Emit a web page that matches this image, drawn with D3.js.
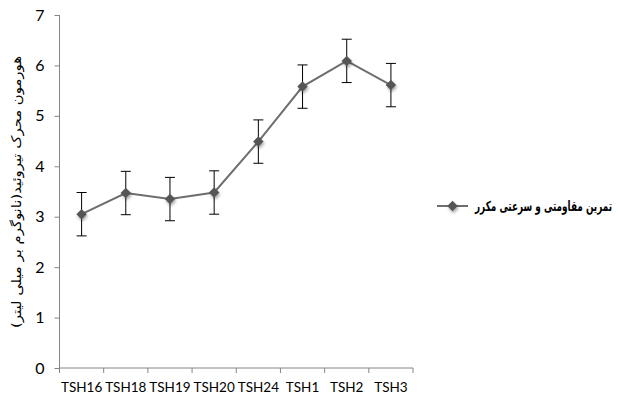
<!DOCTYPE html>
<html>
<head>
<meta charset="utf-8">
<script src="https://cdn.jsdelivr.net/npm/d3@7"></script>
<style>
  body { margin: 0; background: #fff; }
</style>
</head>
<body>
<script>
// داده‌ها
var categories = ["TSH16", "TSH18", "TSH19", "TSH20", "TSH24", "TSH1", "TSH2", "TSH3"];
var values = [3.05, 3.47, 3.35, 3.48, 4.49, 5.58, 6.09, 5.61];
var errors = [0.43, 0.43, 0.43, 0.43, 0.43, 0.43, 0.43, 0.43];
var yTicks = [0, 1, 2, 3, 4, 5, 6, 7];
var seriesName = "تمرین مقاومتی و سرعتی مکرر";
var yTitle = "هورمون محرک تیروئید(نانوگرم بر میلی لیتر)";

var width = 618, height = 405;
var margin = { left: 59.5, top: 15, right: 205, bottom: 37 };
var chartWidth = width - margin.left - margin.right;   // ~353
var chartHeight = height - margin.top - margin.bottom; // ~353

var svg = d3.select('body').append('svg')
    .attr('width', width)
    .attr('height', height);

// skuggfilter för markörerna
var defs = svg.append('defs');
var f = defs.append('filter').attr('id', 'shadow')
    .attr('x', '-50%').attr('y', '-50%').attr('width', '200%').attr('height', '200%');
f.append('feGaussianBlur').attr('in', 'SourceAlpha').attr('stdDeviation', 1.5).attr('result', 'b');
f.append('feOffset').attr('in', 'b').attr('dx', 1).attr('dy', 1.5).attr('result', 'o');
f.append('feComponentTransfer').attr('in', 'o').attr('result', 'o2')
    .append('feFuncA').attr('type', 'linear').attr('slope', 0.35);
var m = f.append('feMerge');
m.append('feMergeNode').attr('in', 'o2');
m.append('feMergeNode').attr('in', 'SourceGraphic');

var xScale = d3.scaleBand()
    .domain(categories)
    .range([0, chartWidth]);

var yScale = d3.scaleLinear()
    .domain([0, 7])
    .range([chartHeight, 0]);

var g = svg.append('g').attr('transform', 'translate(' + margin.left + ',' + margin.top + ')');

var axisColor = '#868686';
var tickFont = 'Lato, "Open Sans", sans-serif';

// y-axel
var yAxis = d3.axisLeft(yScale).tickValues(yTicks).tickSize(5).tickPadding(10).tickFormat(d3.format('d'));
var yg = g.append('g').call(yAxis);
yg.select('.domain').attr('stroke', axisColor).attr('d', 'M0,' + chartHeight + 'V0');
yg.selectAll('.tick line').attr('stroke', axisColor);
yg.selectAll('.tick text').attr('fill', '#000').style('font-family', tickFont).style('font-size', '16px');

// x-axel
var xAxis = d3.axisBottom(xScale).tickSize(0).tickPadding(14);
var xg = g.append('g').attr('transform', 'translate(0,' + chartHeight + ')').call(xAxis);
xg.select('.domain').attr('stroke', axisColor).attr('d', 'M0,0H' + chartWidth);
xg.selectAll('.tick text').attr('fill', '#000').style('font-family', tickFont).style('font-size', '13.5px');
// tick marks mellan kategorierna
var bounds = d3.range(categories.length + 1).map(function(i) { return i * xScale.bandwidth(); });
xg.selectAll('.sep').data(bounds).enter().append('line')
    .attr('x1', function(d) { return d; }).attr('x2', function(d) { return d; })
    .attr('y1', 0).attr('y2', 5)
    .attr('stroke', axisColor);

var cx = function(d, i) { return xScale(categories[i]) + xScale.bandwidth() / 2; };

// linjen
var line = d3.line()
    .x(function(d, i) { return cx(d, i); })
    .y(function(d) { return yScale(d); });

g.append('path')
    .attr('fill', 'none')
    .attr('stroke', '#6e6e6e')
    .attr('stroke-width', 2)
    .attr('d', line(values));

// felstaplar
var eb = g.selectAll('.err').data(values).enter().append('g').attr('class', 'err');
eb.append('line')
    .attr('x1', cx).attr('x2', cx)
    .attr('y1', function(d, i) { return yScale(d + errors[i]); })
    .attr('y2', function(d, i) { return yScale(d - errors[i]); })
    .attr('stroke', '#000').attr('stroke-width', 1);
eb.append('line')
    .attr('x1', function(d, i) { return cx(d, i) - 5; }).attr('x2', function(d, i) { return cx(d, i) + 5; })
    .attr('y1', function(d, i) { return yScale(d + errors[i]); })
    .attr('y2', function(d, i) { return yScale(d + errors[i]); })
    .attr('stroke', '#000').attr('stroke-width', 1);
eb.append('line')
    .attr('x1', function(d, i) { return cx(d, i) - 5; }).attr('x2', function(d, i) { return cx(d, i) + 5; })
    .attr('y1', function(d, i) { return yScale(d - errors[i]); })
    .attr('y2', function(d, i) { return yScale(d - errors[i]); })
    .attr('stroke', '#000').attr('stroke-width', 1);

// markörer (romber)
var diamond = d3.symbol().type(d3.symbolDiamond2).size(70);
g.selectAll('.dot').data(values).enter().append('path')
    .attr('d', diamond)
    .attr('transform', function(d, i) { return 'translate(' + cx(d, i) + ',' + yScale(d) + ')'; })
    .attr('fill', '#555555')
    .attr('filter', 'url(#shadow)');

// y-axelns titel
svg.append('text')
    .attr('transform', 'translate(21,192) rotate(-90)')
    .attr('text-anchor', 'middle')
    .attr('direction', 'rtl')
    .attr('textLength', 272)
    .attr('lengthAdjust', 'spacingAndGlyphs')
    .style('font-family', '"DejaVu Sans", sans-serif')
    .style('font-size', '13px')
    .attr('fill', '#000')
    .text(yTitle);

// legend
var lg = svg.append('g').attr('transform', 'translate(437,206)');
lg.append('line').attr('x1', 0).attr('x2', 31).attr('y1', 0).attr('y2', 0)
    .attr('stroke', '#6e6e6e').attr('stroke-width', 2);
lg.append('path').attr('d', diamond).attr('transform', 'translate(15.5,0)')
    .attr('fill', '#555555').attr('filter', 'url(#shadow)');
// texten trycks ihop horisontellt så den får plats (smal font i originalet)
var legText = lg.append('text')
    .attr('x', 0).attr('y', 0)
    .attr('text-anchor', 'end')
    .attr('direction', 'ltr')
    .style('font-family', '"DejaVu Sans", sans-serif')
    .style('font-size', '14px')
    .style('font-weight', 'bold')
    .attr('fill', '#000')
    .text(seriesName);
var legLen = legText.node().getComputedTextLength();
var sx = 137 / legLen;
legText.attr('transform', 'translate(175,5) scale(' + sx + ',1)');
</script>
</body>
</html>
